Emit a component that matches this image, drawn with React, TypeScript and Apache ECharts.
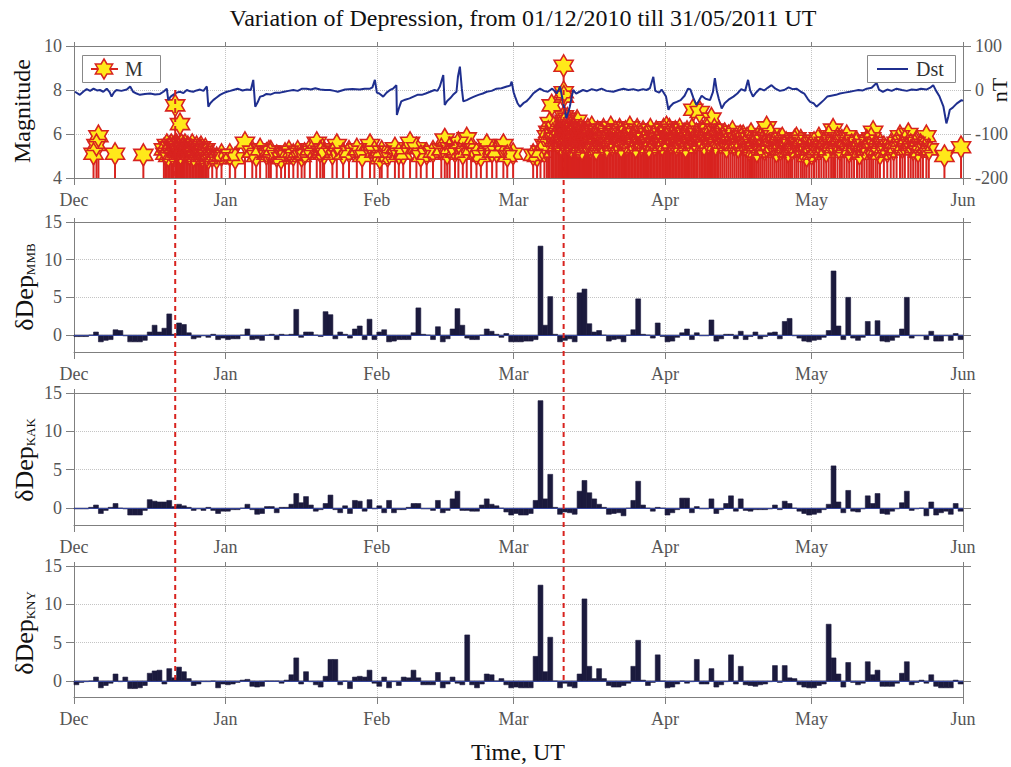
import React, { useEffect, useRef } from 'react';
import * as echarts from 'echarts';

const FONT = '"Liberation Serif", "DejaVu Serif", serif';

// x axis: days since 2010-12-01 00:00 UT
const monthTicks = [0, 31, 62, 90, 121, 151, 182];
const monthNames = ['Dec', 'Jan', 'Feb', 'Mar', 'Apr', 'May', 'Jun'];
const depTicks = [0, 5, 10, 15];
const panelNames = ['MMB', 'KAK', 'KNY'];
const depMins = [-2.25, -2.2, -2.1];

// daily depression values
const mmb = [
  -0.2, -0.2, -0.2, 0, 0.4, -0.9, -0.7, -0.6, 0.7, 0.6,
  -0.1, -0.9, -0.9, -0.9, -0.7, 0.4, 1.3, 0.4, 0.9, 2.8,
  0.1, 1.6, 1.4, 0.3, -0.5, -0.3, -0.1, -0.3, 0.1, -0.6,
  -0.4, -0.6, -0.5, -0.5, 0, 0.8, -0.6, -0.5, -0.7, 0,
  0.1, -0.6, 0.1, 0, 0.1, 3.4, -0.3, 0.4, 0.4, 0,
  -0.2, 3.1, 2.7, -0.5, 0.4, 0.1, -0.4, 0.8, 1.2, -0.6,
  2.1, -0.6, 0.4, 0.7, -0.9, -0.8, -0.6, -0.6, -0.6, 0.3,
  3.6, 0.1, 0, -0.6, 1.1, -0.9, -0.5, 0.8, 3.5, 1.3,
  -0.4, -0.6, -0.6, 0, 0.8, 0.5, 0.1, -0.3, 0.2, -0.9,
  -0.9, -0.9, -0.8, -0.8, -0.6, 11.8, 1.3, 5.1, 0.1, -0.9,
  -0.7, -0.5, -0.9, 5.6, 6.1, 1.5, 0.4, 0.6, 0, -0.8,
  -0.6, -0.5, -0.9, 0, 0.7, 4.8, 0.1, 0, -0.4, 1.6,
  -0.2, -0.9, -0.8, -0.3, 0.3, 0.8, -0.6, 0.3, -0.1, -0.1,
  2.0, -0.8, -0.5, 0.1, 0.1, -0.5, 0.5, -0.6, -0.2, 0.4,
  -0.5, -0.2, 0.3, 0.4, -0.5, 1.8, 2.2, -0.1, -0.4, -0.8,
  -0.9, -0.7, -0.6, -0.3, 0.6, 8.5, 1.2, -0.6, 5.0, -0.4,
  -0.7, -0.3, 1.8, 0, 1.9, -0.8, -0.9, -0.7, -0.3, 0.8,
  5.0, -0.4, -0.1, -0.1, -0.6, 0.5, -0.8, -0.8, -0.1, -0.7,
  0.2, -0.6,
];
const kak = [
  -0.1, -0.1, -0.1, 0.1, 0.4, -0.7, -0.3, 0.1, 0.6, 0,
  -0.1, -0.9, -0.9, -0.9, -0.3, 1.1, 0.9, 0.8, 0.8, 1.0,
  0.2, 0.5, 0.3, 0.1, -0.3, -0.1, -0.3, 0.1, -0.3, -0.7,
  -0.4, -0.4, -0.2, -0.2, 0, 0.5, -0.2, -0.8, -0.7, 0.2,
  0.2, -0.6, 0.1, 0.1, 0.5, 1.9, 0.7, 1.5, 0.4, -0.4,
  -0.2, 0.6, 1.7, -0.2, -0.6, 0.3, -0.7, 1.0, 0.9, -0.4,
  1.1, -0.1, 0.3, -0.6, 1.0, -0.6, -0.2, -0.2, 0.1, 0.6,
  0.6, -0.1, -0.1, -0.3, 1.0, -0.6, -0.3, 1.2, 2.2, -0.3,
  -0.3, -0.4, -0.4, 0.4, 1.2, 0.5, 0.3, 0, -0.5, -0.9,
  -0.7, -0.9, -0.9, -0.7, 1.0, 14.0, 1.2, 4.4, 0.1, -0.8,
  -0.5, -0.6, -0.8, 2.2, 3.6, 2.0, 1.2, 0.5, 0.1, -0.8,
  -0.7, -0.6, -1.0, 0, 1.0, 3.5, 0.4, 0, -0.4, 0.1,
  0, -0.9, -0.6, -0.2, 1.3, 1.3, -0.6, 0.2, -0.1, -0.1,
  1.2, -0.7, -0.2, 0.6, 1.6, -0.4, 1.2, -0.3, -0.4, -0.2,
  -0.2, -0.2, -0.1, 0.4, -0.2, 0.9, 0.6, 0, -0.4, -0.7,
  -0.9, -0.8, -0.6, -0.2, 0.5, 5.5, 0.8, -0.6, 2.3, -0.4,
  -0.5, -0.1, 1.6, 0.6, 1.9, -0.7, -0.8, -0.4, -0.1, 0.7,
  2.2, -0.3, -0.1, 0, -1.0, 0.8, -0.9, -0.6, -0.4, -0.8,
  0.6, -0.4,
];
const kny = [
  -0.5, -0.2, -0.1, 0, 0.5, -0.9, -0.6, -0.3, 0.9, -0.1,
  0.5, -1.0, -1.0, -0.9, -0.6, 1.0, 1.3, 1.4, -0.4, 1.6,
  0.4, 1.8, 1.2, 0.3, -0.6, -0.4, -0.1, -0.1, 0, -0.9,
  -0.4, -0.5, -0.4, -0.2, 0.1, 0.2, -0.7, -0.8, -0.7, 0,
  0, 0, -0.3, 0.1, 0.8, 3.0, -0.4, 1.2, -0.1, -0.5,
  -0.8, 0.6, 2.8, 2.8, -0.5, 0, -1.0, 0.5, 0.6, 0.5,
  1.4, -0.3, -0.7, 0.5, -0.9, -0.1, -0.6, 0.5, 0.4, 1.4,
  0.4, -0.5, -0.5, -0.5, 1.1, -0.9, -0.4, 0.5, -0.3, -0.5,
  6.0, -0.5, -0.9, -0.4, 0.9, 0.8, 0, 0.3, -0.5, -0.9,
  -0.8, -0.9, -0.9, -0.9, 3.2, 12.5, 1.2, 5.7, 0, -0.9,
  -0.3, -0.7, -0.9, 0.9, 10.7, 1.9, 0.3, 1.6, 0.3, -0.6,
  -0.8, -0.8, -0.6, -0.3, 1.9, 5.3, 0.1, -0.6, -0.2, 3.4,
  0, -0.9, -0.8, -0.4, 0, -0.3, -0.1, 2.8, -0.4, -0.4,
  1.6, -0.8, -0.5, -0.1, 3.4, -0.4, 1.9, -0.5, -0.6, -0.7,
  -0.5, -0.4, -0.1, 2.0, -0.2, 2.0, 0.4, 0.3, -0.5, -0.8,
  -0.9, -0.9, -0.6, -0.4, 7.4, 3.0, 0.9, -0.8, 2.4, -0.2,
  -0.5, -0.3, 2.5, 0.8, 1.4, -0.7, -0.7, -0.7, -0.3, 1.0,
  2.5, -0.5, -0.2, 0.1, -0.3, 0.8, -0.7, -0.9, -0.9, -0.9,
  0.1, -0.4,
];

// Dst index, nT: [day, value]
const dst: [number, number][] = [
  [0.2, -4], [1.2, -11], [2.0, -3], [2.6, 2], [3.3, -2], [4, 3], [4.7, -1], [5.3, 0], [6.0, -4], [6.7, 3],
  [7.3, -5], [7.7, -15], [8.2, -5], [8.7, 0], [9.7, -2], [10.8, 1], [11.5, 8], [12.1, -4], [12.8, -8], [13.5, -11],
  [14.5, -9], [15.6, -8], [16.6, -10], [17.6, -9], [18.3, -4], [19.0, 3], [19.3, -23], [19.8, -15], [20.3, -11], [21.0, -6],
  [21.7, -4], [22.4, -7], [23.1, 0], [23.8, -3], [24.4, -4], [25.1, -1], [25.8, 1], [26.5, -2], [27.2, 8], [27.5, -38],
  [27.9, -30], [28.5, -23], [29.2, -17], [29.9, -11], [30.6, -7], [31.3, -4], [32.0, -2], [32.6, 0], [33.5, 3], [34.5, -1],
  [35.4, 1], [36.2, 0], [36.7, 23], [37.1, -38], [37.6, -28], [38.1, -15], [38.8, -13], [39.4, -9], [40.3, -10], [41.2, -6],
  [42.2, -6], [43.0, -4], [43.9, -2], [44.9, 0], [45.8, -2], [46.7, 3], [47.6, 3], [48.5, 1], [49.4, 4], [50.4, 1],
  [51.4, 0], [52.4, 0], [53.3, -2], [54.0, -4], [55.5, 1], [57.0, 2], [58.5, 1], [59.5, 3], [60.6, 3], [61.1, 6],
  [61.6, 23], [62.0, -6], [62.5, -8], [63.3, -15], [64.0, -6], [64.7, 0], [65.3, 3], [66.0, 11], [66.1, -57], [66.5, -42],
  [67.0, -26], [67.8, -22], [68.7, -19], [69.5, -15], [70.3, -11], [71.2, -11], [72.0, -8], [72.9, -4], [73.8, 0], [74.4, -2],
  [74.9, 8], [75.6, 34], [75.9, -34], [76.4, -25], [77.0, -19], [77.6, -11], [78.3, -4], [78.6, 30], [79.0, 53], [79.4, 3],
  [79.7, -26], [80.4, -23], [81.1, -19], [81.9, -15], [82.8, -11], [83.7, -8], [84.5, -4], [85.5, -2], [86.5, 3], [87.5, 4],
  [88.6, 8], [89.3, 10], [89.6, 19], [90.0, -5], [90.3, -15], [90.8, -30], [91.3, -38], [92.0, -30], [92.6, -26], [93.3, -18],
  [94.0, -8], [94.7, -2], [95.4, 3], [96.2, -2], [97.0, -4], [97.9, 3], [98.4, -2], [98.8, -8], [99.2, 0], [99.5, 8],
  [100.0, -20], [100.4, -45], [100.8, -64], [101.2, -50], [101.5, -38], [101.9, -15], [102.2, 0], [102.8, -8], [103.5, -4], [104.2, 0],
  [105.0, -3], [106.0, 2], [107.0, -1], [108.0, 3], [109.0, -2], [110.4, -4], [111.5, 0], [112.5, 3], [113.5, 0], [114.5, 2],
  [115.5, -1], [116.5, 2], [117.2, 0], [117.9, 4], [118.6, 30], [119.0, -2], [119.8, -6], [120.3, 1], [120.6, -4], [121.2, -15],
  [121.7, -45], [122.0, -38], [122.7, -30], [123.4, -27], [124.2, -23], [125.0, -13], [125.7, 3], [126.2, 1], [126.8, -18], [127.4, -34],
  [127.9, -25], [128.5, -13], [129.3, -20], [130.2, -23], [130.8, -5], [131.2, 27], [131.6, -2], [132.0, -20], [132.6, -42], [133.2, -30],
  [134.0, -22], [135.0, -15], [135.8, -8], [136.6, 2], [137.4, -2], [138.0, 23], [138.4, 0], [139.0, -15], [139.7, -5], [140.4, 3],
  [141.3, -1], [142.0, 5], [142.8, 11], [143.6, 3], [144.5, -2], [145.4, 0], [146.3, 6], [147.1, 2], [147.9, 3], [148.8, -4],
  [149.5, -8], [150.2, -20], [150.7, -27], [151.4, -30], [152.0, -38], [152.8, -30], [153.5, -23], [154.2, -15], [155.0, -13], [156.0, -11],
  [156.8, -8], [157.8, -6], [158.8, -4], [159.7, -2], [160.6, 0], [161.5, -1], [162.3, 3], [163.3, 5], [164.3, 16], [164.8, 1],
  [165.6, -4], [166.5, 1], [167.4, -2], [168.4, 3], [169.5, 0], [170.5, -2], [171.5, 1], [172.5, 0], [173.4, 3], [174.5, 1],
  [175.4, 6], [175.9, 11], [176.5, -2], [177.2, -15], [178.0, -38], [178.6, -76], [179.0, -60], [179.3, -45], [179.9, -40], [180.7, -31],
  [181.2, -27], [181.7, -23], [182.0, -25],
];

// earthquakes: [day, magnitude]
const quakes: [number, number][] = [
  [4.0, 5.1], [4.6, 5.5], [5.0, 5.9], [8.4, 5.1], [14.2, 5.05],
  [18.4, 5.3], [18.7, 5.1], [19.0, 5.5], [19.3, 5.0], [19.6, 5.4], [19.9, 5.5], [20.1, 5.1], [20.3, 5.4], [20.72, 7.3], [20.8, 5.5],
  [20.9, 5.3], [21.0, 5.5], [21.1, 5.2], [21.2, 5.4], [21.4, 5.3], [21.7, 6.45], [21.8, 5.1], [22.0, 5.5], [22.2, 5.3], [22.4, 5.4],
  [22.7, 5.5], [23.0, 5.2], [23.3, 5.4], [23.6, 5.1], [23.9, 5.3], [24.2, 5.5], [24.5, 5.0], [24.8, 5.3], [25.1, 5.4], [25.4, 5.1],
  [25.7, 5.3], [26.0, 5.4], [26.3, 5.0], [26.6, 5.2], [26.9, 5.3], [27.2, 5.0], [27.5, 4.9],
  [28.3, 5.0], [29.2, 4.9], [30.2, 5.05], [31.9, 5.05], [33.0, 4.9], [35.0, 5.6], [36.5, 5.2], [37.3, 5.0], [38.1, 5.3], [39.4, 5.1],
  [39.9, 5.2], [40.3, 5.2], [41.5, 5.0], [42.4, 4.9], [43.2, 5.1], [44.0, 5.2], [44.9, 5.05], [45.8, 5.2], [46.6, 5.0], [47.2, 5.1],
  [48.3, 5.3], [49.7, 5.6], [50.4, 5.2], [50.9, 5.3], [51.2, 5.1], [52.9, 5.1], [53.8, 5.5], [55.1, 5.1], [56.3, 5.2], [57.9, 5.3],
  [59.0, 5.0], [60.6, 5.5], [61.5, 5.2],
  [62.6, 4.9], [63.0, 5.2], [64.2, 5.0], [65.7, 5.35], [66.5, 5.1], [67.4, 5.1], [68.8, 5.6], [70.1, 5.35], [71.0, 5.0], [72.2, 5.1],
  [73.5, 5.2], [75.2, 5.3], [75.9, 5.75], [76.4, 5.1], [76.9, 5.35], [78.0, 5.2], [78.7, 5.6], [79.6, 5.1], [80.4, 5.8], [81.3, 5.3],
  [82.4, 5.1], [83.3, 5.0], [84.5, 5.5], [85.6, 5.2], [86.5, 5.2], [87.9, 5.5], [88.7, 5.0], [89.9, 5.1],
  [94.0, 5.05], [94.8, 5.0], [95.5, 5.2], [96.3, 5.5], [96.8, 5.9], [97.1, 6.1], [97.4, 6.5], [97.8, 7.3], [98.0, 6.0], [98.2, 6.3],
  [98.5, 5.8], [98.8, 6.0], [99.1, 5.6], [99.4, 5.9], [99.7, 5.5], [100.0, 5.7],
  [100.24, 9.1], [100.26, 7.9], [100.28, 7.7], [100.3, 6.8], [100.35, 6.5], [100.4, 6.2], [100.45, 6.6], [100.5, 5.9], [100.6, 6.3], [100.7, 5.8],
  [100.8, 6.1], [100.9, 5.6], [101.0, 6.7], [101.1, 5.9], [101.2, 6.2], [101.3, 5.5], [101.4, 6.0], [101.5, 6.4], [101.6, 5.7], [101.7, 6.1],
  [101.8, 5.4], [101.9, 6.0], [102.0, 5.8], [102.2, 6.3], [102.4, 5.5], [102.6, 6.1], [102.8, 5.7], [103.0, 6.6], [103.2, 5.4], [103.4, 6.0],
  [103.6, 5.8], [103.8, 6.2], [104.0, 5.3], [104.2, 5.9], [104.4, 6.1], [104.6, 5.6], [104.8, 6.0], [105.0, 5.5], [105.2, 6.2], [105.4, 5.7],
  [105.6, 6.0], [105.8, 5.4], [106.0, 6.3], [106.3, 5.6], [106.6, 5.9], [106.9, 5.3], [107.2, 6.1], [107.5, 5.7], [107.8, 6.0], [108.1, 5.5],
  [108.4, 6.2], [108.7, 5.8], [109.0, 5.4], [109.3, 6.0], [109.6, 5.7], [109.9, 6.3], [110.2, 5.5], [110.5, 5.9], [110.8, 6.1], [111.1, 5.6],
  [111.4, 5.8], [111.7, 6.2], [112.0, 5.4], [112.3, 6.0], [112.6, 5.7], [112.9, 6.1], [113.2, 5.5], [113.5, 5.9], [113.8, 6.3], [114.1, 5.6],
  [114.4, 5.8], [114.7, 6.0], [115.0, 5.4], [115.3, 6.2], [115.6, 5.7], [115.9, 5.9], [116.2, 5.5], [116.5, 6.1], [116.8, 5.8], [117.1, 5.6],
  [117.4, 6.0], [117.7, 5.4], [118.0, 6.2], [118.3, 5.7], [118.6, 5.9], [118.9, 5.5], [119.2, 6.1], [119.5, 5.8], [119.8, 5.6], [120.1, 6.0],
  [120.4, 5.5], [120.7, 6.2], [121.0, 5.7], [121.3, 6.3], [121.6, 5.9], [121.9, 6.2], [122.2, 5.6], [122.5, 6.0], [122.8, 5.8], [123.1, 6.1],
  [123.4, 5.5], [123.7, 5.9], [124.0, 6.2], [124.3, 5.6], [124.6, 5.8], [124.9, 6.0], [125.2, 5.4], [125.5, 6.1], [125.8, 5.7], [126.1, 5.9],
  [126.5, 6.2], [126.8, 7.1], [127.1, 5.6], [127.4, 6.0], [127.7, 5.8], [128.1, 7.0], [128.4, 5.7], [128.7, 6.1], [129.0, 5.5], [129.3, 5.9],
  [129.6, 6.2], [129.9, 5.6], [130.2, 6.0], [130.5, 6.7], [130.8, 5.8], [131.1, 6.2], [131.4, 5.5], [131.7, 5.9], [132.0, 6.1], [132.4, 5.6],
  [132.8, 5.8], [133.2, 6.0], [133.6, 5.4], [134.0, 5.9], [134.4, 5.6], [134.8, 6.1], [135.2, 5.5], [135.6, 5.8], [136.0, 5.4], [136.4, 5.9],
  [136.8, 5.6], [137.0, 5.9], [137.4, 5.5], [137.8, 5.8], [138.2, 5.3], [138.6, 6.0], [139.0, 5.5], [139.4, 5.7], [139.8, 5.2], [140.2, 5.9],
  [140.6, 5.4], [141.0, 5.7], [141.4, 5.3], [141.8, 6.3], [142.2, 5.5], [142.6, 6.0], [143.0, 5.4], [143.4, 5.7], [143.8, 5.2], [144.2, 5.6],
  [144.6, 5.3], [145.0, 5.8], [145.4, 5.4], [145.8, 5.6], [146.2, 5.2], [146.6, 5.5], [147.0, 5.3], [147.5, 5.7], [147.9, 5.8], [148.3, 5.4],
  [148.8, 5.7], [149.2, 5.2], [149.6, 5.5], [150.0, 5.0],
  [150.5, 5.3], [151.0, 5.1], [151.5, 5.6], [152.0, 5.3], [152.5, 5.8], [153.0, 5.4], [153.5, 5.6], [154.0, 5.2], [154.5, 5.9], [155.0, 5.5],
  [155.4, 6.2], [155.8, 5.6], [156.3, 5.8], [156.8, 5.3], [157.2, 5.7], [157.7, 5.4], [158.2, 5.9], [158.7, 5.2], [159.2, 5.5], [159.7, 5.3],
  [160.3, 5.6], [160.8, 5.1], [161.3, 5.5], [161.8, 5.3], [162.3, 5.7], [162.8, 5.4], [163.2, 5.8], [163.6, 6.1], [164.1, 5.5], [164.5, 5.3],
  [165.0, 5.1], [165.8, 5.4], [166.5, 5.2], [167.2, 5.5], [167.8, 5.3], [168.4, 5.6], [169.1, 5.9], [169.6, 5.4], [170.1, 5.7], [170.8, 6.0],
  [171.3, 5.5], [171.8, 5.3], [172.3, 5.6], [172.8, 5.2], [173.3, 5.5], [173.8, 5.4], [174.5, 5.9], [175.0, 5.3], [178.2, 5.0], [181.6, 5.4],
];

// times of the two marked events (Bonin Islands M7.4, Tohoku M9.0)
const eventDays = [20.72, 100.24];

const AXIS = '#7f7f7f';
const LABEL = '#555';
const GRIDC = '#c4c4c4';
const RED = '#d8231f';
const YELLOW = '#ffe81a';
const NAVY = '#1f2f8f';
const BAR = '#1b1a3d';
const STAR_R = 11;

function starPoints(cx: number, cy: number, R: number) {
  const r = R * 0.5774;
  const pts: number[][] = [];
  for (let k = 0; k < 12; k++) {
    const a = -Math.PI / 2 + (k * Math.PI) / 6;
    const rad = k % 2 === 0 ? R : r;
    pts.push([cx + rad * Math.cos(a), cy + rad * Math.sin(a)]);
  }
  return pts;
}

export default function App() {
  const ref = useRef<HTMLDivElement>(null);
  useEffect(() => {
    if (!ref.current) return;
    const chart = echarts.init(ref.current, undefined, { renderer: 'svg' });
    const grids = [
      { left: 74, top: 46, width: 889, height: 132 },
      { left: 74, top: 222, width: 889, height: 130 },
      { left: 74, top: 393, width: 889, height: 132 },
      { left: 74, top: 566, width: 889, height: 131 },
    ];
    const labelStyle = { fontFamily: FONT, fontSize: 18, color: LABEL };
    const xAxes: any[] = [];
    grids.forEach((_, i) => {
      xAxes.push({
        type: 'value', gridIndex: i, position: 'bottom', min: 0, max: 182,
        axisLine: { show: true, onZero: false, lineStyle: { color: AXIS, width: 1 } },
        axisTick: { show: true, inside: false, length: 7, customValues: monthTicks, lineStyle: { color: AXIS } },
        axisLabel: {
          show: true, customValues: monthTicks, showMinLabel: true, showMaxLabel: true, margin: 13,
          formatter: (v: number) => monthNames[monthTicks.indexOf(Math.round(v))] || '',
          ...labelStyle,
        },
        splitLine: { show: true, lineStyle: { type: 'dotted', color: GRIDC, width: 1 } },
      });
      xAxes.push({
        type: 'value', gridIndex: i, position: 'top', min: 0, max: 182,
        axisLine: { show: true, onZero: false, lineStyle: { color: AXIS, width: 1 } },
        axisTick: { show: true, inside: false, length: 4, customValues: monthTicks, lineStyle: { color: AXIS } },
        axisLabel: { show: false },
        splitLine: { show: false },
      });
    });
    const yAxes: any[] = [
      {
        type: 'value', gridIndex: 0, position: 'left', min: 4, max: 10, interval: 2,
        axisLine: { show: true, onZero: false, lineStyle: { color: AXIS } },
        axisTick: { show: true, inside: false, length: 8, lineStyle: { color: AXIS } },
        axisLabel: { margin: 12, ...labelStyle },
        splitLine: { show: true, lineStyle: { type: 'dotted', color: GRIDC } },
      },
      {
        type: 'value', gridIndex: 0, position: 'right', min: -200, max: 100, interval: 100,
        axisLine: { show: true, onZero: false, lineStyle: { color: AXIS } },
        axisTick: { show: true, inside: false, length: 8, lineStyle: { color: AXIS } },
        axisLabel: { margin: 12, ...labelStyle },
        splitLine: { show: false },
      },
    ];
    depMins.forEach((mn, k) => {
      const gi = k + 1;
      yAxes.push({
        type: 'value', gridIndex: gi, position: 'left', min: mn, max: 15,
        axisLine: { show: true, onZero: false, lineStyle: { color: AXIS } },
        axisTick: { show: true, inside: false, length: 8, customValues: depTicks, lineStyle: { color: AXIS } },
        axisLabel: { margin: 12, customValues: depTicks, ...labelStyle },
        splitLine: { show: true, lineStyle: { type: 'dotted', color: GRIDC } },
      });
      yAxes.push({
        type: 'value', gridIndex: gi, position: 'right', min: mn, max: 15,
        axisLine: { show: true, onZero: false, lineStyle: { color: AXIS } },
        axisTick: { show: true, inside: false, length: 8, customValues: depTicks, lineStyle: { color: AXIS } },
        axisLabel: { show: false, customValues: depTicks },
        splitLine: { show: false },
      });
    });

    const depSeries = [mmb, kak, kny].map((arr, k) => ({
      type: 'custom',
      xAxisIndex: 2 * (k + 1),
      yAxisIndex: 2 + 2 * k,
      data: arr.map((v, i) => [i, v]),
      renderItem: (_p: any, api: any) => {
        const d = api.value(0);
        const v = api.value(1);
        const a = api.coord([d, 0]);
        const b = api.coord([d + 1, v]);
        return {
          type: 'rect',
          shape: { x: a[0], y: Math.min(a[1], b[1]), width: b[0] - a[0], height: Math.abs(b[1] - a[1]) },
          style: { fill: BAR, stroke: BAR, lineWidth: 0.6 },
        };
      },
      markLine: {
        silent: true, symbol: 'none', label: { show: false },
        lineStyle: { color: '#34449a', width: 1.2, type: 'solid' },
        data: [{ yAxis: 0 }],
      },
      z: 3,
    }));

    // stems, then all star faces, then all star edges (as the original plot)
    const quakeLayer = (mode: 'stem' | 'face' | 'edge', z: number) => ({
      type: 'custom',
      xAxisIndex: 0,
      yAxisIndex: 0,
      data: quakes,
      clip: false,
      z,
      renderItem: (_p: any, api: any) => {
        const x = api.value(0);
        const m = api.value(1);
        const top = api.coord([x, m]);
        if (mode === 'stem') {
          const base = api.coord([x, 4]);
          return { type: 'line', shape: { x1: base[0], y1: base[1], x2: top[0], y2: top[1] }, style: { stroke: RED, lineWidth: 2 } };
        }
        const pts = starPoints(top[0], top[1], STAR_R);
        if (mode === 'face') {
          return { type: 'polygon', shape: { points: pts }, style: { fill: YELLOW, stroke: null, lineWidth: 0 } };
        }
        return { type: 'polygon', shape: { points: pts }, style: { fill: 'none', stroke: RED, lineWidth: 1.6 } };
      },
    });

    chart.setOption({
      animation: false,
      backgroundColor: '#fff',
      grid: grids,
      xAxis: xAxes,
      yAxis: yAxes,
      series: [
        quakeLayer('stem', 2),
        quakeLayer('face', 2),
        quakeLayer('edge', 2),
        {
          type: 'line',
          xAxisIndex: 0,
          yAxisIndex: 1,
          data: dst,
          symbol: 'none',
          lineStyle: { color: NAVY, width: 2 },
          z: 4,
        },
        ...depSeries,
      ],
    });

    const xs = eventDays.map((d) => chart.convertToPixel({ xAxisIndex: 0 } as any, d) as number);
    const yTop = chart.convertToPixel({ yAxisIndex: 0 } as any, 8) as number;
    const yBot = chart.convertToPixel({ yAxisIndex: 6 } as any, 0) as number;

    const graphics: any[] = [
      {
        type: 'text', x: 523, y: 18,
        style: { text: 'Variation of Depression, from 01/12/2010 till 31/05/2011 UT', font: `24px ${FONT}`, fill: '#111', textAlign: 'center', textVerticalAlign: 'middle' },
      },
      {
        type: 'text', x: 518, y: 752,
        style: { text: 'Time, UT', font: `24px ${FONT}`, fill: '#111', textAlign: 'center', textVerticalAlign: 'middle' },
      },
      {
        type: 'text', x: 22, y: 111, rotation: Math.PI / 2,
        style: { text: 'Magnitude', font: `24px ${FONT}`, fill: '#111', textAlign: 'center', textVerticalAlign: 'middle' },
      },
      {
        type: 'text', x: 999, y: 90, rotation: Math.PI / 2,
        style: { text: 'nT', font: `22px ${FONT}`, fill: '#111', textAlign: 'center', textVerticalAlign: 'middle' },
      },
      // legends
      { type: 'rect', shape: { x: 82.5, y: 55.5, width: 78, height: 27 }, style: { fill: '#fff', stroke: '#888', lineWidth: 1 }, z: 10 },
      { type: 'line', shape: { x1: 91, y1: 69, x2: 118, y2: 69 }, style: { stroke: RED, lineWidth: 2 }, z: 11 },
      { type: 'polygon', shape: { points: starPoints(104, 69, 10) }, style: { fill: YELLOW, stroke: RED, lineWidth: 1.5 }, z: 12 },
      { type: 'text', x: 125, y: 69, style: { text: 'M', font: `20px ${FONT}`, fill: '#333', textVerticalAlign: 'middle' }, z: 12 },
      { type: 'rect', shape: { x: 867.5, y: 55.5, width: 88, height: 27 }, style: { fill: '#fff', stroke: '#888', lineWidth: 1 }, z: 10 },
      { type: 'line', shape: { x1: 877, y1: 69, x2: 908, y2: 69 }, style: { stroke: NAVY, lineWidth: 2 }, z: 11 },
      { type: 'text', x: 916, y: 69, style: { text: 'Dst', font: `20px ${FONT}`, fill: '#333', textVerticalAlign: 'middle' }, z: 12 },
    ];
    const depCenters = [287, 460, 633];
    panelNames.forEach((nm, k) => {
      graphics.push({
        type: 'text', x: 22, y: depCenters[k], rotation: Math.PI / 2,
        style: {
          text: `{a|δDep}{b|${nm}}`,
          textAlign: 'center', textVerticalAlign: 'middle',
          rich: {
            a: { fontFamily: FONT, fontSize: 26, fill: '#111', verticalAlign: 'bottom', lineHeight: 30 },
            b: { fontFamily: FONT, fontSize: 13, fill: '#111', verticalAlign: 'bottom', lineHeight: 22 },
          },
        },
      });
    });
    xs.forEach((x) => {
      graphics.push({
        type: 'line', shape: { x1: x, y1: yTop, x2: x, y2: yBot },
        style: { stroke: RED, lineWidth: 2, lineDash: [5, 4] }, z: 20,
      });
    });
    chart.setOption({ graphic: graphics });

    return () => chart.dispose();
  }, []);
  return <div ref={ref} style={{ position: 'fixed', left: 0, top: 0, width: 1011, height: 767 }} />;
}
